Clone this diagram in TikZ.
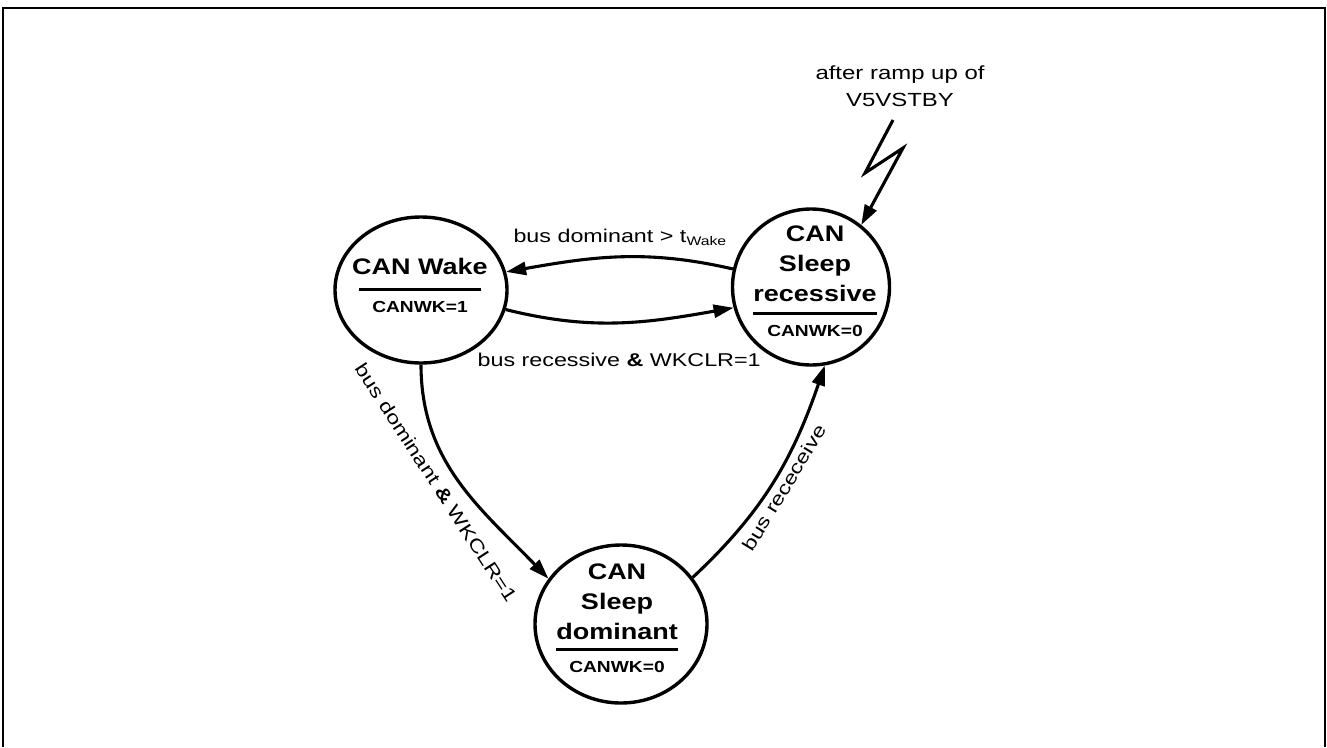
\documentclass[tikz,border=0pt]{standalone}
\usepackage{fontspec}
\setmainfont{Liberation Sans}[FakeStretch=1.2]
\newfontfamily\LabelFont{Liberation Sans}[FakeStretch=1.26]
\usetikzlibrary{arrows.meta, shapes.geometric}
\newcommand{\TitleSize}{\fontsize{22.5}{30}\selectfont\bfseries}
\newcommand{\FlagSize}{\fontsize{16}{18}\selectfont\bfseries}

\begin{document}
\begin{tikzpicture}[x=1pt, y=-1pt,
    state/.style={draw, ellipse, line width=3.4pt, inner sep=0pt},
    statetext/.style={align=center, inner sep=0pt, font=\TitleSize},
    arr/.style={line width=3.1pt, -{Triangle[length=20pt,width=13pt]}},
    lbl/.style={inner sep=0pt, font=\LabelFont\fontsize{18.5}{22}\selectfont}]
  \useasboundingbox (0,0) rectangle (1327,747);
  \draw[line width=2pt] (3,747) -- (3,8) -- (1325,8) -- (1325,747);

  % states
  \node[state, minimum width=172pt, minimum height=146pt] (wake) at (421,290) {};
  \node[state, minimum width=157pt, minimum height=156pt] (srec) at (811,287) {};
  \node[state, minimum width=172pt, minimum height=158pt] (sdom) at (621,624) {};

  \node[statetext] (wake-txt) at (420,285) {CAN Wake\\[-13.5pt]\rule{122pt}{3pt}\\[-8.5pt]{\FlagSize CANWK=1}};
  \node[statetext] (srec-txt) at (815,281.5) {CAN\\Sleep\\recessive\\[-16.5pt]\rule{124pt}{3pt}\\[-8.2pt]{\FlagSize CANWK=0}};
  \node[statetext] (sdom-txt) at (617,618.3) {CAN\\Sleep\\dominant\\[-19.2pt]\rule{122pt}{3pt}\\[-8.1pt]{\FlagSize CANWK=0}};

  % transitions
  \draw[arr] (srec.167) to[out=167, in=10]
    node[lbl, above=10pt] {bus dominant > t\raisebox{-3.5pt}{\fontsize{12.5}{13}\selectfont Wake}} (wake.12);
  \draw[arr] (wake.-13) to[out=-14, in=190]
    node[lbl, below=29pt] {bus recessive {\bfseries\&} WKCLR=1} (srec.195);
  \draw[arr] (wake.-90) to[out=-90, in=134]
    node[lbl, sloped, below=11pt, pos=0.45] {bus dominant {\bfseries\&} WKCLR=1} (sdom.148);
  \draw[arr] (sdom.33) to[out=43, in=-109]
    node[lbl, sloped, below=4pt] {bus receceive} (srec.-80);

  % power up
  \node[lbl, align=center, font=\LabelFont\fontsize{19}{27}\selectfont] (ramp) at (900,86) {after ramp up of\\V5VSTBY};
  \coordinate (bolt0) at (893,120);
  \coordinate (bolt1) at (865,173);
  \coordinate (bolt2) at (903,148);
  \draw[arr] (bolt0) -- (bolt1) -- (bolt2) -- (srec.51);
\end{tikzpicture}
\end{document}
